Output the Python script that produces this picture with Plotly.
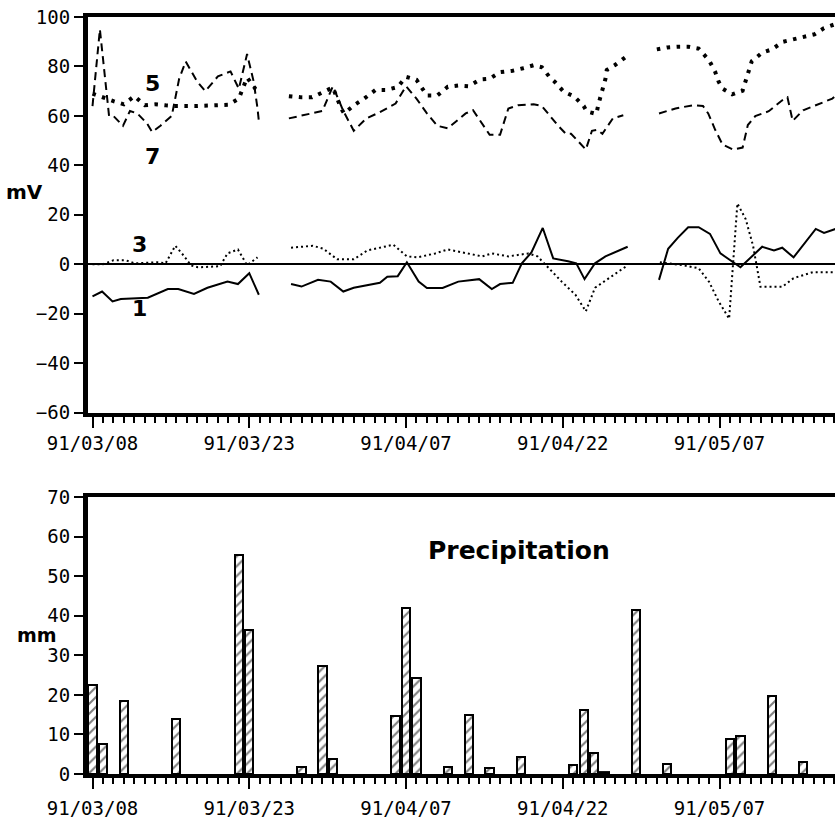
import plotly.graph_objects as go

# ---------------- data: redox potentials (mV) ----------------
s1_dates = ["1991-03-08 00:00", "1991-03-08 22:00", "1991-03-09 22:00", "1991-03-10 17:00", "1991-03-13 07:00",
            "1991-03-15 05:00", "1991-03-16 05:00", "1991-03-17 17:00", "1991-03-19 00:00", "1991-03-20 22:00",
            "1991-03-21 22:00", "1991-03-23 00:00", "1991-03-23 22:00", "1991-03-25 12:00",
            "1991-03-27 00:00", "1991-03-28 00:00", "1991-03-29 14:00", "1991-03-30 19:00", "1991-04-01 00:00",
            "1991-04-02 00:00", "1991-04-04 12:00", "1991-04-05 05:00", "1991-04-06 05:00", "1991-04-07 02:00",
            "1991-04-08 05:00", "1991-04-09 00:00", "1991-04-10 12:00", "1991-04-12 00:00", "1991-04-14 00:00",
            "1991-04-15 05:00", "1991-04-16 00:00", "1991-04-17 05:00", "1991-04-18 02:00", "1991-04-19 00:00",
            "1991-04-20 02:00", "1991-04-21 02:00", "1991-04-22 12:00", "1991-04-23 07:00", "1991-04-24 02:00",
            "1991-04-25 02:00", "1991-04-26 02:00", "1991-04-28 05:00", "1991-04-29 12:00",
            "1991-05-01 05:00", "1991-05-02 02:00", "1991-05-03 00:00", "1991-05-04 00:00", "1991-05-05 00:00",
            "1991-05-06 02:00", "1991-05-07 02:00", "1991-05-08 07:00", "1991-05-09 00:00", "1991-05-10 12:00",
            "1991-05-11 02:00", "1991-05-12 05:00", "1991-05-13 00:00", "1991-05-14 02:00", "1991-05-16 05:00",
            "1991-05-17 00:00", "1991-05-18 02:00"]
s1_values = [-13, -11, -15, -14, -13.5, -10, -10, -12, -9.5, -7, -8, -3.6, -12.3, None,
             -8, -9, -6.3, -7, -11, -9.5, -7.5, -5, -4.8, 0.8, -7, -9.6, -9.6, -7, -6, -10, -8, -7.5,
             0.4, 4.8, 14.7, 2.4, 1.2, 0.4, -6, 0.4, 3.2, 7.1, None,
             -6.3, 6.3, 10.7, 15, 15, 12.3, 4.4, 0.8, -1.2, 4.8, 7.1, 5.6, 6.7, 2.8, 14.3, 12.7, 14.3]

s3_dates = ["1991-03-08 00:00", "1991-03-09 00:00", "1991-03-10 00:00", "1991-03-11 05:00", "1991-03-12 00:00",
            "1991-03-13 07:00", "1991-03-14 05:00", "1991-03-15 00:00", "1991-03-15 22:00", "1991-03-16 17:00",
            "1991-03-17 10:00", "1991-03-18 02:00", "1991-03-20 05:00", "1991-03-20 22:00", "1991-03-21 22:00",
            "1991-03-22 19:00", "1991-03-23 19:00", "1991-03-25 12:00",
            "1991-03-27 00:00", "1991-03-29 02:00", "1991-03-30 02:00", "1991-03-31 10:00", "1991-04-02 00:00",
            "1991-04-03 07:00", "1991-04-05 19:00", "1991-04-07 02:00", "1991-04-08 02:00", "1991-04-09 19:00",
            "1991-04-11 00:00", "1991-04-12 17:00", "1991-04-14 07:00", "1991-04-15 05:00", "1991-04-16 19:00",
            "1991-04-18 17:00", "1991-04-19 14:00", "1991-04-20 14:00", "1991-04-21 22:00", "1991-04-23 05:00",
            "1991-04-24 05:00", "1991-04-25 02:00", "1991-04-26 10:00", "1991-04-28 05:00", "1991-04-29 12:00",
            "1991-05-01 07:00", "1991-05-03 12:00", "1991-05-05 00:00", "1991-05-06 00:00", "1991-05-06 22:00",
            "1991-05-07 22:00", "1991-05-08 17:00", "1991-05-09 12:00", "1991-05-10 05:00", "1991-05-10 22:00",
            "1991-05-13 00:00", "1991-05-14 02:00", "1991-05-15 22:00", "1991-05-18 02:00"]
s3_values = [0, 0, 1.6, 1.6, 0.4, 0.8, 0.8, 0.4, 7.5, 3.6, -0.4, -1.2, -0.8, 4.4, 6, -0.4, 2.8, None,
             6.7, 7.5, 6.3, 2, 2, 5.6, 7.9, 3.2, 2.8, 4.4, 6, 4.4, 3.2, 4.4, 3.2, 4.4, 3.2, -1.2, -7.1,
             -12.3, -19, -9.5, -5.6, -0.4, None,
             0.8, -0.4, -1.6, -7.1, -15, -22, 24.6, 18.3, 7.5, -9.1, -9.1, -5.6, -3.2, -3.2]

s5_dates = ["1991-03-08 00:00", "1991-03-09 00:00", "1991-03-10 00:00", "1991-03-11 00:00", "1991-03-12 00:00",
            "1991-03-13 00:00", "1991-03-14 00:00", "1991-03-15 00:00", "1991-03-16 00:00", "1991-03-18 00:00",
            "1991-03-20 00:00", "1991-03-21 00:00", "1991-03-22 00:00", "1991-03-22 10:00", "1991-03-22 19:00",
            "1991-03-23 14:00", "1991-03-24 00:00", "1991-03-25 12:00",
            "1991-03-26 19:00", "1991-03-28 00:00", "1991-03-29 00:00", "1991-03-30 02:00", "1991-03-31 00:00",
            "1991-03-31 19:00", "1991-04-01 02:00", "1991-04-02 02:00", "1991-04-03 00:00", "1991-04-04 02:00",
            "1991-04-05 02:00", "1991-04-06 05:00", "1991-04-07 00:00", "1991-04-08 00:00", "1991-04-08 14:00",
            "1991-04-09 00:00", "1991-04-10 00:00", "1991-04-11 00:00", "1991-04-12 00:00", "1991-04-13 00:00",
            "1991-04-14 02:00", "1991-04-15 00:00", "1991-04-16 00:00", "1991-04-17 05:00", "1991-04-18 05:00",
            "1991-04-19 05:00", "1991-04-20 00:00", "1991-04-20 19:00", "1991-04-21 05:00", "1991-04-22 02:00",
            "1991-04-23 02:00", "1991-04-24 00:00", "1991-04-24 07:00", "1991-04-25 05:00", "1991-04-25 10:00",
            "1991-04-25 19:00", "1991-04-26 02:00", "1991-04-26 05:00", "1991-04-27 00:00", "1991-04-28 02:00",
            "1991-04-29 12:00",
            "1991-05-01 00:00", "1991-05-02 00:00", "1991-05-03 02:00", "1991-05-04 00:00", "1991-05-05 00:00",
            "1991-05-06 00:00", "1991-05-06 14:00", "1991-05-06 22:00", "1991-05-07 07:00", "1991-05-08 05:00",
            "1991-05-09 05:00", "1991-05-09 12:00", "1991-05-09 22:00", "1991-05-10 02:00", "1991-05-11 02:00",
            "1991-05-12 00:00", "1991-05-13 02:00", "1991-05-14 05:00", "1991-05-15 00:00", "1991-05-16 02:00",
            "1991-05-17 00:00", "1991-05-18 00:00"]
s5_values = [69, 67.3, 66, 64.7, 68, 64.3, 64.7, 64.3, 64, 64, 64.3, 64.5, 67, 71, 75.5, 71, 70, None,
             68, 67.5, 67.5, 69.5, 71.5, 63, 61, 64.5, 67, 70.5, 70.5, 71.7, 75.8, 74.6, 70.7, 68.3, 68.3,
             71.8, 72.3, 72, 74.7, 75, 77.7, 78.3, 79.3, 80.5, 79.7, 75.4, 73.9, 69.8, 67.9, 64, 61.8, 60.8,
             64.8, 69.8, 75, 78.6, 80.6, 84, None,
             86.9, 87.7, 88, 88, 87.2, 82.5, 77.8, 73.8, 71, 68.7, 70.2, 73.8, 79.3, 82.1, 85.6, 86.9, 90,
             91.1, 91.9, 93, 95.5, 97]

s7_dates = ["1991-03-08 00:00", "1991-03-08 17:00", "1991-03-09 14:00", "1991-03-10 00:00", "1991-03-10 22:00",
            "1991-03-11 14:00", "1991-03-12 07:00", "1991-03-13 05:00", "1991-03-13 17:00", "1991-03-14 12:00",
            "1991-03-15 14:00", "1991-03-16 07:00", "1991-03-16 22:00", "1991-03-18 00:00", "1991-03-18 19:00",
            "1991-03-20 00:00", "1991-03-21 05:00", "1991-03-22 00:00", "1991-03-22 19:00", "1991-03-23 10:00",
            "1991-03-23 19:00", "1991-03-23 22:00", "1991-03-25 12:00",
            "1991-03-26 19:00", "1991-03-28 12:00", "1991-03-30 00:00", "1991-03-31 00:00", "1991-04-01 00:00",
            "1991-04-02 00:00", "1991-04-03 05:00", "1991-04-04 12:00", "1991-04-06 00:00", "1991-04-07 00:00",
            "1991-04-08 00:00", "1991-04-09 00:00", "1991-04-10 00:00", "1991-04-11 00:00", "1991-04-12 17:00",
            "1991-04-13 10:00", "1991-04-14 07:00", "1991-04-15 00:00", "1991-04-16 00:00", "1991-04-16 19:00",
            "1991-04-17 17:00", "1991-04-19 05:00", "1991-04-20 00:00", "1991-04-20 14:00", "1991-04-21 12:00",
            "1991-04-22 07:00", "1991-04-22 19:00", "1991-04-24 05:00", "1991-04-24 19:00", "1991-04-25 07:00",
            "1991-04-25 19:00", "1991-04-26 19:00", "1991-04-27 19:00", "1991-04-29 12:00",
            "1991-05-01 05:00", "1991-05-02 19:00", "1991-05-04 10:00", "1991-05-05 10:00", "1991-05-05 22:00",
            "1991-05-06 14:00", "1991-05-07 07:00", "1991-05-08 07:00", "1991-05-09 05:00", "1991-05-09 17:00",
            "1991-05-10 10:00", "1991-05-11 17:00", "1991-05-13 00:00", "1991-05-13 12:00", "1991-05-14 00:00",
            "1991-05-15 00:00", "1991-05-16 05:00", "1991-05-17 19:00", "1991-05-18 02:00"]
s7_values = [64, 95, 60, 60, 56, 62, 61, 57, 53.5, 56, 60, 75, 82, 74, 70, 76, 78, 71, 85, 74, 63, 58, None,
             59, 60.5, 62, 72, 62, 54, 59, 61.5, 65, 72, 67, 61, 56, 55, 61, 62.3, 57, 52.4, 52.4, 63, 64.3,
             64.7, 64, 61, 56.3, 52.8, 52.8, 46.4, 54, 54.4, 52.8, 59, 60.3, None,
             61, 63, 64.3, 64, 61, 54.4, 48.4, 46.4, 47.2, 56.3, 59.9, 61.9, 66.3, 67.5, 58, 62.3, 64.3, 67, 68]

# ---------------- data: precipitation (mm) ----------------
rain_dates = ["1991-03-08", "1991-03-09", "1991-03-11", "1991-03-16", "1991-03-22", "1991-03-23",
              "1991-03-28", "1991-03-30", "1991-03-31", "1991-04-06", "1991-04-07", "1991-04-08",
              "1991-04-11", "1991-04-13", "1991-04-15", "1991-04-18", "1991-04-23", "1991-04-24",
              "1991-04-25", "1991-04-26", "1991-04-29", "1991-05-02", "1991-05-08", "1991-05-09",
              "1991-05-12", "1991-05-15"]
rain_mm = [22.5, 7.5, 18.5, 14, 55.3, 36.5, 1.8, 27.3, 3.8, 14.6, 42, 24.2,
           1.7, 14.9, 1.6, 4.2, 2.2, 16.2, 5.2, 0.6, 41.5, 2.6, 8.9, 9.5, 19.8, 3.1]

mv_ticks = [-60, -40, -20, 0, 20, 40, 60, 80, 100]
mm_ticks = [0, 10, 20, 30, 40, 50, 60, 70]
x_range = ["1991-03-07 13:40", "1991-05-18 01:10"]

# ---------------- figure ----------------
DAY = 86400000
TICKFONT = dict(family="DejaVu Sans Mono", size=19, color="black")
BOLD = dict(family="DejaVu Sans", size=20, color="black", weight="bold")

fig = go.Figure()

fig.add_trace(go.Scatter(x=s5_dates, y=s5_values, mode="lines", connectgaps=False,
                         line=dict(color="black", width=4, dash="3.5px,6.5px"), xaxis="x", yaxis="y"))
fig.add_trace(go.Scatter(x=s7_dates, y=s7_values, mode="lines", connectgaps=False,
                         line=dict(color="black", width=2, dash="8px,5px"), xaxis="x", yaxis="y"))
fig.add_trace(go.Scatter(x=s3_dates, y=s3_values, mode="lines", connectgaps=False,
                         line=dict(color="black", width=2, dash="2px,3px"), xaxis="x", yaxis="y"))
fig.add_trace(go.Scatter(x=s1_dates, y=s1_values, mode="lines", connectgaps=False,
                         line=dict(color="black", width=2), xaxis="x", yaxis="y"))

fig.add_trace(go.Bar(x=rain_dates, y=rain_mm, width=0.8 * DAY, xaxis="x2", yaxis="y2",
                     marker=dict(color="white", line=dict(color="black", width=2),
                                 pattern=dict(shape="/", fgcolor="black", bgcolor="white",
                                              size=7, solidity=0.3))))

xcommon = dict(type="date", range=x_range, tick0="1991-03-08", dtick=15 * DAY, tickformat="%y/%m/%d",
               ticks="outside", ticklen=11, tickwidth=2, tickcolor="black", tickfont=TICKFONT,
               showline=True, linewidth=4, linecolor="black", mirror=True, showgrid=False,
               zeroline=False, fixedrange=True,
               minor=dict(dtick=DAY, ticks="outside", ticklen=6, tickwidth=2, tickcolor="black", showgrid=False))

fig.update_layout(
    width=835, height=819, autosize=False,
    margin=dict(l=88, r=0, t=17, b=31),
    paper_bgcolor="white", plot_bgcolor="white",
    showlegend=False,
    xaxis=dict(xcommon, anchor="y"),
    xaxis2=dict(xcommon, anchor="y2", ticklabelstandoff=3),
    yaxis=dict(domain=[0.4773, 1.0], range=[-60, 100], tickvals=mv_ticks,
               ticks="outside", ticklen=9, tickwidth=2, tickcolor="black", tickfont=TICKFONT,
               showline=True, linewidth=5, linecolor="black", showgrid=False, fixedrange=True,
               zeroline=True, zerolinecolor="black", zerolinewidth=2),
    yaxis2=dict(domain=[0.0, 0.3658], range=[0, 70], tickvals=mm_ticks,
                ticks="outside", ticklen=9, tickwidth=2, tickcolor="black", tickfont=TICKFONT,
                showline=True, linewidth=5, linecolor="black", showgrid=False, zeroline=False,
                fixedrange=True),
    bargap=0,
)

annos = [
    dict(text="mV", x=-0.085, y=0.769, xref="paper", yref="paper", font=BOLD),
    dict(text="mm", x=-0.068, y=0.183, xref="paper", yref="paper", font=dict(BOLD, size=19)),
    dict(text="Precipitation", x=0.577, y=0.2957, xref="paper", yref="paper",
         font=dict(BOLD, size=25)),
    dict(text="5", x="1991-03-13 18:00", y=73, xref="x", yref="y", font=dict(BOLD, size=22)),
    dict(text="7", x="1991-03-13 17:00", y=43.5, xref="x", yref="y", font=dict(BOLD, size=22)),
    dict(text="3", x="1991-03-12 12:00", y=8, xref="x", yref="y", font=dict(BOLD, size=22)),
    dict(text="1", x="1991-03-12 12:00", y=-18, xref="x", yref="y", font=dict(BOLD, size=22)),
]
for a in annos:
    fig.add_annotation(showarrow=False, xanchor="center", yanchor="middle", **a)

fig.write_html("out.html", config={"displayModeBar": False},
               post_script="document.body.style.margin='0';document.body.style.overflow='hidden';")
